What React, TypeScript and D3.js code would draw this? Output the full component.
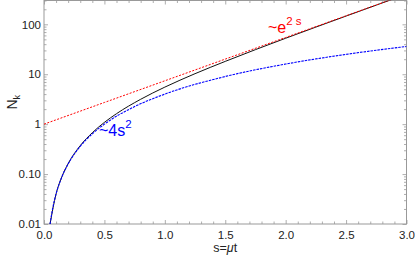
import React, { useEffect, useRef } from 'react'
import * as d3 from 'd3'

// N_k curve
const nkS = [0.05, 0.1, 0.15, 0.2, 0.3, 0.4, 0.5, 0.6, 0.8, 1.0, 1.25, 1.5, 1.75, 2.0, 2.25, 2.5, 2.75, 3.0]
const nkV = [0.01, 0.04, 0.091, 0.162, 0.371, 0.675, 1.086, 1.62, 3.15, 5.52, 10.26, 18.1, 31.1, 52.6, 88.0, 146.4, 242.7, 401.4]

// ~e^{2s} asymptote
const expS = [0, 0.5, 1.0, 1.5, 2.0, 2.5, 3.0]
const expV = [1, 2.72, 7.39, 20.1, 54.6, 148.4, 403.4]

// ~4s^2 asymptote
const quadS = [0.05, 0.075, 0.1, 0.15, 0.2, 0.3, 0.4, 0.5, 0.75, 1.0, 1.5, 2.0, 2.5, 3.0]
const quadV = [0.01, 0.0225, 0.04, 0.09, 0.16, 0.36, 0.64, 1, 2.25, 4, 9, 16, 25, 36]

const xTicks = [0, 0.5, 1.0, 1.5, 2.0, 2.5, 3.0]
const yTicks = [0.01, 0.1, 1, 10, 100]
const yTickLabels = ['0.01', '0.10', '1', '10', '100']

const W = 415
const H = 259
const margin = { top: 0.5, right: 8.5, bottom: 35, left: 44 }

export default function App() {
  const svgRef = useRef<SVGSVGElement>(null)

  useEffect(() => {
    if (!svgRef.current) return
    const svg = d3.select(svgRef.current)
    svg.selectAll('*').remove()

    const x0 = margin.left
    const x1 = W - margin.right
    const y0 = H - margin.bottom
    const y1 = margin.top

    const x = d3.scaleLinear().domain([0, 3]).range([x0, x1])
    const y = d3.scaleLog().domain([0.01, 300]).range([y0, y1])

    svg
      .append('clipPath')
      .attr('id', 'plotclip')
      .append('rect')
      .attr('x', x0)
      .attr('y', y1)
      .attr('width', x1 - x0)
      .attr('height', y0 - y1)

    const font = 'Liberation Sans, Arial, sans-serif'
    const minorX = d3.range(0, 3.0001, 0.1).filter((v) => Math.abs(v * 2 - Math.round(v * 2)) > 1e-6)
    const minorY: number[] = []
    for (const d of [0.01, 0.1, 1, 10, 100]) {
      for (let m = 2; m <= 9; m++) {
        if (d * m <= 300) minorY.push(d * m)
      }
    }

    const styleAxis = (g: d3.Selection<SVGGElement, unknown, null, undefined>) => {
      g.select('.domain').remove()
      g.selectAll('.tick line').attr('stroke', '#999').attr('stroke-width', 0.8)
      g.selectAll('text').attr('fill', '#222').attr('font-size', '11.5px').attr('font-family', font)
    }

    // bottom
    svg
      .append('g')
      .attr('transform', `translate(0,${y0})`)
      .call(d3.axisBottom(x).tickValues(xTicks).tickSize(-4).tickPadding(7).tickFormat(d3.format('.1f')))
      .call(styleAxis)
    svg
      .append('g')
      .attr('transform', `translate(0,${y0})`)
      .call(d3.axisBottom(x).tickValues(minorX).tickSize(-2.5).tickFormat(() => ''))
      .call(styleAxis)
    // top
    svg
      .append('g')
      .attr('transform', `translate(0,${y1})`)
      .call(d3.axisTop(x).tickValues(xTicks).tickSize(-4).tickFormat(() => ''))
      .call(styleAxis)
    svg
      .append('g')
      .attr('transform', `translate(0,${y1})`)
      .call(d3.axisTop(x).tickValues(minorX).tickSize(-2.5).tickFormat(() => ''))
      .call(styleAxis)
    // left
    svg
      .append('g')
      .attr('transform', `translate(${x0},0)`)
      .call(
        d3
          .axisLeft(y)
          .tickValues(yTicks)
          .tickSize(-4)
          .tickPadding(3)
          .tickFormat((d, i) => yTickLabels[i])
      )
      .call(styleAxis)
    svg
      .append('g')
      .attr('transform', `translate(${x0},0)`)
      .call(d3.axisLeft(y).tickValues(minorY).tickSize(-2.5).tickFormat(() => ''))
      .call(styleAxis)
    // right
    svg
      .append('g')
      .attr('transform', `translate(${x1},0)`)
      .call(d3.axisRight(y).tickValues(yTicks).tickSize(-4).tickFormat(() => ''))
      .call(styleAxis)
    svg
      .append('g')
      .attr('transform', `translate(${x1},0)`)
      .call(d3.axisRight(y).tickValues(minorY).tickSize(-2.5).tickFormat(() => ''))
      .call(styleAxis)

    // frame
    svg
      .append('rect')
      .attr('x', x0)
      .attr('y', y1)
      .attr('width', x1 - x0)
      .attr('height', y0 - y1)
      .attr('fill', 'none')
      .attr('stroke', '#999')
      .attr('stroke-width', 1)

    const plot = svg.append('g').attr('clip-path', 'url(#plotclip)')

    const line = (sArr: number[], vArr: number[], curve: d3.CurveFactory) =>
      d3
        .line<number>()
        .x((i) => x(sArr[i]))
        .y((i) => y(vArr[i]))
        .curve(curve)(d3.range(sArr.length))

    plot
      .append('path')
      .attr('d', line(nkS, nkV, d3.curveMonotoneX))
      .attr('fill', 'none')
      .attr('stroke', '#111')
      .attr('stroke-width', 1)

    plot
      .append('path')
      .attr('d', line(expS, expV, d3.curveLinear))
      .attr('fill', 'none')
      .attr('stroke', '#f00')
      .attr('stroke-width', 1)
      .attr('stroke-dasharray', '2,1.5')

    plot
      .append('path')
      .attr('d', line(quadS, quadV, d3.curveMonotoneX))
      .attr('fill', 'none')
      .attr('stroke', '#0000ff')
      .attr('stroke-width', 1.1)
      .attr('stroke-dasharray', '2.5,1')

    // annotations
    const eText = svg
      .append('text')
      .attr('x', 268)
      .attr('y', 33)
      .attr('fill', '#f00')
      .attr('font-family', font)
      .attr('font-size', '16px')
    eText.append('tspan').text('~e')
    eText.append('tspan').attr('dy', -8).attr('font-size', '11.5px').text('2 s')

    const qText = svg
      .append('text')
      .attr('x', 99)
      .attr('y', 136)
      .attr('fill', '#0000ff')
      .attr('font-family', font)
      .attr('font-size', '16px')
    qText.append('tspan').text('~4s')
    qText.append('tspan').attr('dy', -8).attr('font-size', '11.5px').text('2')

    // axis labels
    const yl = svg
      .append('text')
      .attr('transform', `translate(17,${(y0 + y1) / 2 - 10}) rotate(-90)`)
      .attr('text-anchor', 'middle')
      .attr('fill', '#222')
      .attr('font-family', font)
      .attr('font-size', '14px')
    yl.append('tspan').text('N')
    yl.append('tspan').attr('dy', 3).attr('font-size', '9px').text('k')

    const xl = svg
      .append('text')
      .attr('x', (x0 + x1) / 2)
      .attr('y', 252)
      .attr('text-anchor', 'middle')
      .attr('fill', '#222')
      .attr('font-family', font)
      .attr('font-size', '12.5px')
    xl.append('tspan').text('s=')
    xl.append('tspan').attr('font-style', 'italic').text('μ')
    xl.append('tspan').text('t')
  }, [])

  return (
    <svg
      ref={svgRef}
      width={W}
      height={H}
      style={{ position: 'absolute', left: 0, top: 0, background: '#fff' }}
    />
  )
}
